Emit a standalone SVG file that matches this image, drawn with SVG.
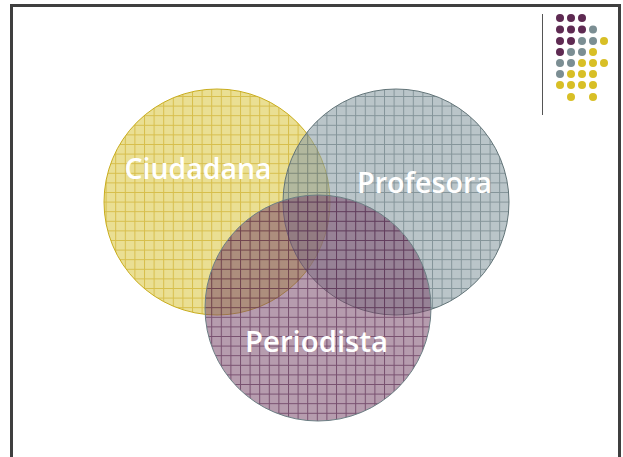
<svg xmlns="http://www.w3.org/2000/svg" width="623" height="457" viewBox="0 0 623 457">
<defs>
<pattern id="pY" patternUnits="userSpaceOnUse" width="9.6" height="9.6" x="0" y="0">
<rect width="9.6" height="9.6" fill="#d9c43a" fill-opacity="0.55"/>
<path d="M0 0.5H9.6M0.5 0V9.6" stroke="#c9a91c" stroke-width="1" stroke-opacity="0.6"/>
</pattern>
<pattern id="pG" patternUnits="userSpaceOnUse" width="9.6" height="9.6" x="0" y="0">
<rect width="9.6" height="9.6" fill="#8c9fa5" fill-opacity="0.6"/>
<path d="M0 0.5H9.6M0.5 0V9.6" stroke="#5f7378" stroke-width="1" stroke-opacity="0.6"/>
</pattern>
<pattern id="pP" patternUnits="userSpaceOnUse" width="9.6" height="9.6" x="0" y="0">
<rect width="9.6" height="9.6" fill="#7a4a6c" fill-opacity="0.55"/>
<path d="M0 0.5H9.6M0.5 0V9.6" stroke="#4e1e44" stroke-width="1" stroke-opacity="0.6"/>
</pattern>
</defs>
<style>
.lbl{font-family:"Open Sans","DejaVu Sans",sans-serif;font-weight:600;font-size:29px;fill:#ffffff}
.dp{fill:#5e2a52}.dg{fill:#7b8e93}.dy{fill:#d8bf26}
</style>
<rect width="623" height="457" fill="#ffffff"/>
<path d="M11.5 457V5.5H619.5V457" fill="none" stroke="#3f3f3f" stroke-width="3"/>
<line x1="542.5" y1="14" x2="542.5" y2="115" stroke="#555" stroke-width="1"/>
<g id="dots">
<circle class="dp" cx="560" cy="18" r="4"/><circle class="dp" cx="571" cy="18" r="4"/><circle class="dp" cx="582" cy="18" r="4"/>
<circle class="dp" cx="560" cy="29.5" r="4"/><circle class="dp" cx="571" cy="29.5" r="4"/><circle class="dp" cx="582" cy="29.5" r="4"/><circle class="dg" cx="593" cy="29.5" r="4"/>
<circle class="dp" cx="560" cy="41" r="4"/><circle class="dp" cx="571" cy="41" r="4"/><circle class="dg" cx="582" cy="41" r="4"/><circle class="dg" cx="593" cy="41" r="4"/><circle class="dy" cx="604" cy="41" r="4"/>
<circle class="dp" cx="560" cy="52" r="4"/><circle class="dg" cx="571" cy="52" r="4"/><circle class="dg" cx="582" cy="52" r="4"/><circle class="dy" cx="593" cy="52" r="4"/>
<circle class="dg" cx="560" cy="63" r="4"/><circle class="dg" cx="571" cy="63" r="4"/><circle class="dy" cx="582" cy="63" r="4"/><circle class="dy" cx="593" cy="63" r="4"/><circle class="dy" cx="604" cy="63" r="4"/>
<circle class="dg" cx="560" cy="74" r="4"/><circle class="dy" cx="571" cy="74" r="4"/><circle class="dy" cx="582" cy="74" r="4"/><circle class="dy" cx="593" cy="74" r="4"/>
<circle class="dy" cx="560" cy="85" r="4"/><circle class="dy" cx="571" cy="85" r="4"/><circle class="dy" cx="582" cy="85" r="4"/><circle class="dy" cx="593" cy="85" r="4"/>
<circle class="dy" cx="571" cy="97" r="4"/><circle class="dy" cx="593" cy="97" r="4"/>
</g>
<g id="ciudadana">
<circle cx="217" cy="202" r="113" fill="url(#pY)" stroke="#c9ad1e" stroke-width="1"/>
</g>
<g id="profesora">
<circle cx="396" cy="202" r="113" fill="url(#pG)" stroke="#627478" stroke-width="1"/>
</g>
<g id="periodista">
<circle cx="318" cy="308" r="113" fill="url(#pP)" stroke="#6c7f84" stroke-width="1"/>
</g>
<g id="connectors"></g>
<g id="labels">
<text class="lbl" x="198" y="179" text-anchor="middle" textLength="147" lengthAdjust="spacingAndGlyphs">Ciudadana</text>
<text class="lbl" x="424.5" y="193" text-anchor="middle" textLength="135" lengthAdjust="spacingAndGlyphs">Profesora</text>
<text class="lbl" x="316.5" y="352" text-anchor="middle" textLength="143" lengthAdjust="spacingAndGlyphs">Periodista</text>
</g>
</svg>
